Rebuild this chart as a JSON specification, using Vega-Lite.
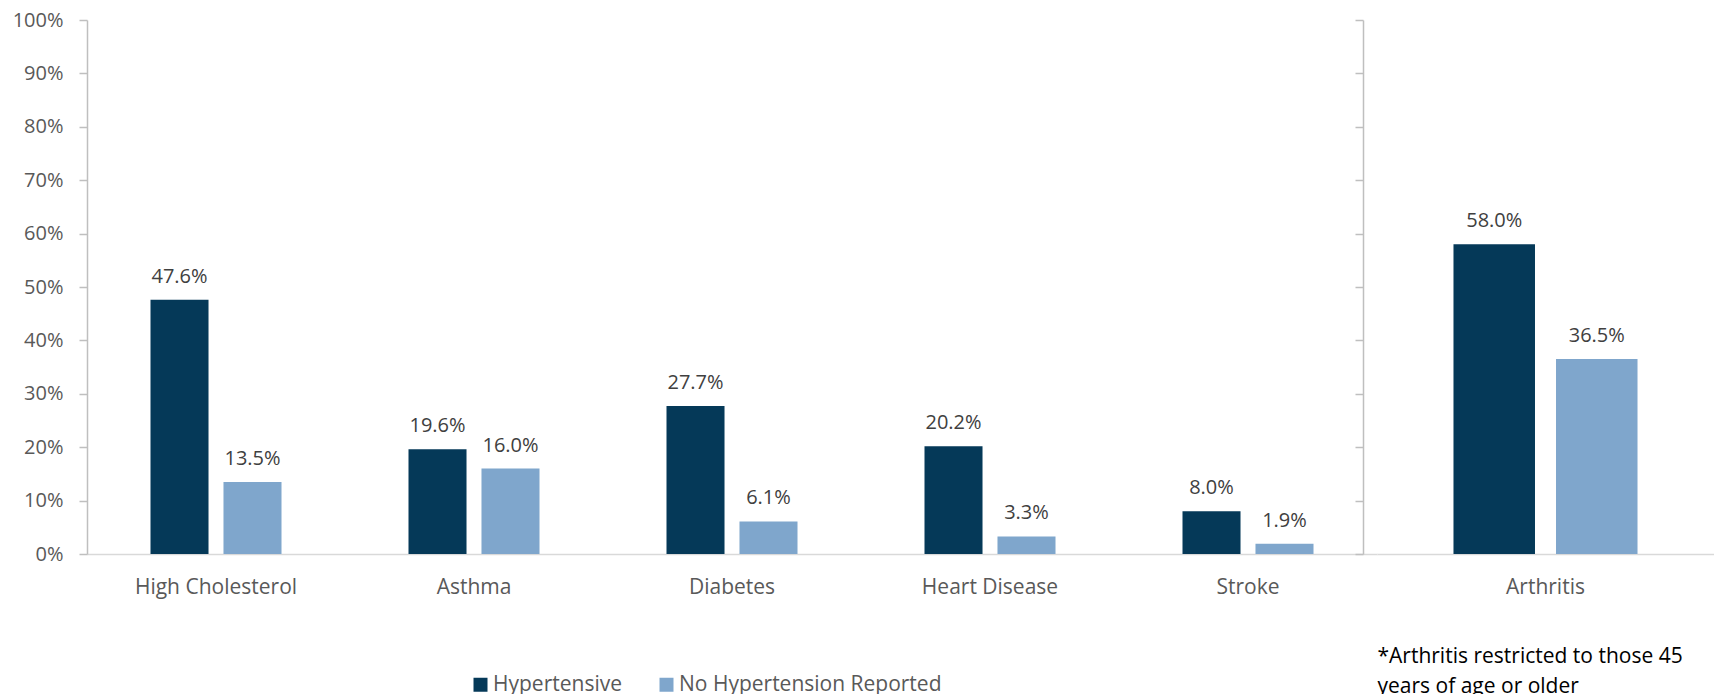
{
  "$schema": "https://vega.github.io/schema/vega-lite/v6.json",
  "padding": {"left": 12, "top": 10, "right": 0, "bottom": 0},
  "background": "white",
  "bounds": "flush",
  "spacing": 0,
  "resolve": {"scale": {"xOffset": "independent", "x": "independent", "y": "independent"}},
  "datasets": {
    "main": [
      {"condition": "High Cholesterol", "group": "Hypertensive", "value": 0.476},
      {"condition": "High Cholesterol", "group": "No Hypertension Reported", "value": 0.135},
      {"condition": "Asthma", "group": "Hypertensive", "value": 0.196},
      {"condition": "Asthma", "group": "No Hypertension Reported", "value": 0.160},
      {"condition": "Diabetes", "group": "Hypertensive", "value": 0.277},
      {"condition": "Diabetes", "group": "No Hypertension Reported", "value": 0.061},
      {"condition": "Heart Disease", "group": "Hypertensive", "value": 0.202},
      {"condition": "Heart Disease", "group": "No Hypertension Reported", "value": 0.033},
      {"condition": "Stroke", "group": "Hypertensive", "value": 0.080},
      {"condition": "Stroke", "group": "No Hypertension Reported", "value": 0.019}
    ],
    "arth": [
      {"condition": "Arthritis", "group": "Hypertensive", "value": 0.580},
      {"condition": "Arthritis", "group": "No Hypertension Reported", "value": 0.365}
    ]
  },
  "config": {
    "font": "Open Sans",
    "view": {"stroke": null}
  },
  "hconcat": [
    {
      "width": 1290,
      "height": 534,
      "data": {"name": "main"},
      "encoding": {
        "x": {
          "field": "condition", "type": "nominal",
          "sort": ["High Cholesterol", "Asthma", "Diabetes", "Heart Disease", "Stroke"],
          "scale": {"paddingInner": 0, "paddingOuter": 0},
          "axis": {"title": null, "labelAngle": 0, "ticks": false, "domainColor": "#d9d9d9", "domainWidth": 1.5, "labelFontSize": 21, "labelColor": "#595959", "labelPadding": 22}
        },
        "xOffset": {
          "field": "group", "type": "nominal",
          "sort": ["Hypertensive", "No Hypertension Reported"],
          "scale": {"paddingInner": 0.205, "paddingOuter": 0.87}
        },
        "y": {
          "field": "value", "type": "quantitative",
          "scale": {"domain": [0, 1]},
          "axis": {"title": null, "format": ".0%", "values": [0, 0.1, 0.2, 0.3, 0.4, 0.5, 0.6, 0.7, 0.8, 0.9, 1], "grid": false, "tickColor": "#bfbfbf", "domainColor": "#bfbfbf", "tickSize": 8, "tickWidth": 1.5, "domainWidth": 1.5, "labelPadding": 16, "labelFontSize": 20, "labelColor": "#595959"}
        }
      },
      "layer": [
        {"mark": {"type": "bar"},
         "encoding": {
           "color": {
             "field": "group", "type": "nominal",
             "scale": {"domain": ["Hypertensive", "No Hypertension Reported"], "range": ["#053958", "#7fa6cc"]},
             "legend": {"title": null, "orient": "none", "direction": "horizontal", "legendX": 383, "legendY": 654, "symbolType": "square", "symbolSize": 196, "symbolStrokeWidth": 0, "labelFontSize": 21, "labelColor": "#595959", "labelOffset": 2, "labelLimit": 0, "columnPadding": 34, "symbolOpacity": 1}
           }
         }},
        {"mark": {"type": "text", "baseline": "alphabetic", "dy": -17, "fontSize": 20, "color": "#404040"},
         "encoding": {"text": {"field": "value", "type": "quantitative", "format": ".1%"}}}
      ]
    },
    {
      "width": 337,
      "height": 534,
      "data": {"name": "arth"},
      "encoding": {
        "x": {
          "field": "condition", "type": "nominal",
          "scale": {"paddingInner": 0, "paddingOuter": 0},
          "axis": {"title": ["*Arthritis restricted to those 45", "years of age or older"], "titleFontSize": 21, "titleFontWeight": "normal", "titleColor": "#000000", "titleAnchor": "start", "titleAlign": "left", "titleX": 0, "titleY": 108, "titleBaseline": "alphabetic", "titleLineHeight": 30, "labelAngle": 0, "ticks": false, "domainColor": "#d9d9d9", "domainWidth": 1.5, "labelFontSize": 21, "labelColor": "#595959", "labelPadding": 22}
        },
        "xOffset": {
          "field": "group", "type": "nominal",
          "sort": ["Hypertensive", "No Hypertension Reported"],
          "scale": {"paddingInner": 0.205, "paddingOuter": 0.746}
        },
        "y": {
          "field": "value", "type": "quantitative",
          "scale": {"domain": [0, 1]},
          "axis": {"title": null, "labels": false, "offset": 14, "values": [0, 0.1, 0.2, 0.3, 0.4, 0.5, 0.6, 0.7, 0.8, 0.9, 1], "grid": false, "tickColor": "#bfbfbf", "domainColor": "#bfbfbf", "tickSize": 8, "tickWidth": 1.5, "domainWidth": 1.5}
        }
      },
      "layer": [
        {"mark": {"type": "bar"},
         "encoding": {
           "color": {
             "field": "group", "type": "nominal",
             "scale": {"domain": ["Hypertensive", "No Hypertension Reported"], "range": ["#053958", "#7fa6cc"]},
             "legend": null
           }
         }},
        {"mark": {"type": "text", "baseline": "alphabetic", "dy": -17, "fontSize": 20, "color": "#404040"},
         "encoding": {"text": {"field": "value", "type": "quantitative", "format": ".1%"}}}
      ]
    }
  ]
}
